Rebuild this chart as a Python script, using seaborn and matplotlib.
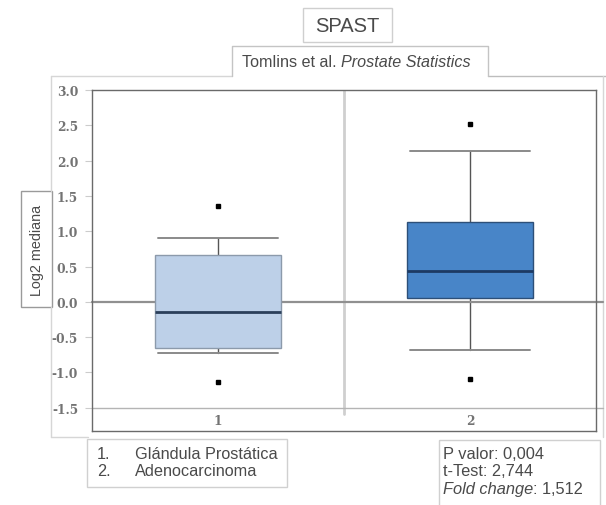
import matplotlib
matplotlib.use("Agg")
import matplotlib.pyplot as plt
from matplotlib.patches import Rectangle
import seaborn as sns

# ---- data -------------------------------------------------------------
gene = "SPAST"
study_plain = "Tomlins et al. "
study_italic = "Prostate Statistics"
groups = ["1", "2"]
group_names = ["Glándula Prostática", "Adenocarcinoma"]

medians = [-0.15, 0.44]
q1 = [-0.65, 0.06]
q3 = [0.66, 1.13]
whisker_low = [-0.72, -0.68]
whisker_high = [0.91, 2.14]
outlier_low = [-1.13, -1.10]
outlier_high = [1.35, 2.52]

y_ticks = [-1.5, -1.0, -0.5, 0.0, 0.5, 1.0, 1.5, 2.0, 2.5, 3.0]
y_label = "Log2 mediana"

p_value = "0,004"
t_test = "2,744"
fold_change = "1,512"

# ---- styles -----------------------------------------------------------
box_faces = ["#bdd0e8", "#4885c8"]
box_edges = ["#8c9aab", "#2d4f78"]
median_colors = ["#2b3f5a", "#1d3a63"]
text_gray = "#4a4a4a"

sns.set_theme(style="white")
plt.rcParams["font.family"] = ["Liberation Sans", "DejaVu Sans"]

W, H = 606, 506
fig = plt.figure(figsize=(W / 100, H / 100), dpi=100)

# pixel-space canvas for the panel decorations
bg = fig.add_axes([0, 0, 1, 1])
bg.set_xlim(0, W)
bg.set_ylim(H, 0)
bg.axis("off")

# main plot area
L, R, T, B = 92, 596, 91, 432
ax = fig.add_axes([L / W, 1 - B / H, (R - L) / W, (B - T) / H])
ax.patch.set_alpha(0)

stats = []
for i in range(len(groups)):
    stats.append(dict(
        med=medians[i], q1=q1[i], q3=q3[i],
        whislo=whisker_low[i], whishi=whisker_high[i],
        fliers=[outlier_low[i], outlier_high[i]], label=groups[i],
    ))

bp = ax.bxp(stats, positions=list(range(len(groups))), widths=0.5,
            capwidths=0.48, patch_artist=True, manage_ticks=False,
            flierprops=dict(marker="s", markersize=2.8,
                            markerfacecolor="black", markeredgecolor="black"))
for i, box in enumerate(bp["boxes"]):
    box.set_facecolor(box_faces[i])
    box.set_edgecolor(box_edges[i])
    box.set_linewidth(1.0)
    box.set_zorder(3)
for i, med in enumerate(bp["medians"]):
    med.set_color(median_colors[i])
    med.set_linewidth(2.0)
    med.set_zorder(4)
for w in bp["whiskers"]:
    w.set_color("#555555")
    w.set_linewidth(1.0)
for c in bp["caps"]:
    c.set_color("#8a8a8a")
    c.set_linewidth(1.4)

ax.set_xlim(-0.5, len(groups) - 0.5)
ax.set_ylim(-1.83, 2.97)

# reference lines and group divider
ax.axhline(0, color="#909090", lw=1.6, zorder=2, xmax=1.014, clip_on=False)
ax.axhline(-1.5, color="#b4b4b4", lw=1.0, zorder=2, xmax=1.014, clip_on=False)
ax.axvline(0.5, ymin=0.05, ymax=1, color="#cfcfcf", lw=2.0, zorder=1)

for s in ax.spines.values():
    s.set_color("#6a6a6a")
    s.set_linewidth(1.0)

ax.set_yticks(y_ticks)
ax.set_yticklabels([f"{v:.1f}" for v in y_ticks])
ax.set_xticks(list(range(len(groups))))
ax.set_xticklabels(groups)
ax.tick_params(axis="y", direction="out", length=5, width=0.8, color="#cccccc",
               pad=5, labelsize=8.8, labelcolor="#737373", left=True)
ax.tick_params(axis="x", length=0, pad=-12.5, labelsize=8.8, labelcolor="#737373")
for lab in ax.get_yticklabels() + ax.get_xticklabels():
    lab.set_family("DejaVu Serif")
    lab.set_weight("bold")

# ---- panel decorations -------------------------------------------------
faint = "#d6d6d6"
# outer panel
bg.plot([51, 232], [77, 77], color=faint, lw=1)
bg.plot([488, 606], [77, 77], color="#bdbdbd", lw=1)
bg.plot([51, 51], [77, 192], color=faint, lw=1)
bg.plot([51, 51], [308, 438], color=faint, lw=1)
bg.plot([51, 88], [438, 438], color=faint, lw=1)
bg.plot([603, 603], [77, 438], color=faint, lw=1)

# title box
bg.add_patch(Rectangle((303, 9), 89, 34, fill=False, edgecolor="#cfcfcf", lw=1))
bg.text(347.5, 26.5, gene, ha="center", va="center", fontsize=14.5, color=text_gray)

# subtitle tab
bg.plot([232, 232, 488, 488], [77, 47, 47, 77], color="#c4c4c4", lw=1)
t1 = bg.text(242, 70, study_plain, ha="left", va="bottom", fontsize=11.6, color=text_gray)
bg.annotate(study_italic, xy=(1, 0), xycoords=t1, va="bottom", ha="left",
            fontsize=11.6, color=text_gray, style="italic")

# y label tab
bg.add_patch(Rectangle((21, 192), 31, 116, facecolor="white", edgecolor="#9a9a9a", lw=1))
bg.text(37, 250, y_label, rotation=90, ha="center", va="center", fontsize=10.4, color=text_gray)

# group legend box
bg.add_patch(Rectangle((87, 440), 200, 48, fill=False, edgecolor="#d0d0d0", lw=1))
for i, name in enumerate(group_names):
    yy = 455 + i * 17
    bg.text(97, yy, f"{i + 1}.", ha="left", va="center", fontsize=11.7, color=text_gray)
    bg.text(135, yy, name, ha="left", va="center", fontsize=11.7, color=text_gray)

# statistics box
bg.add_patch(Rectangle((439, 441), 161, 70, fill=False, edgecolor="#d0d0d0", lw=1))
bg.text(443, 455, f"P valor: {p_value}", ha="left", va="center", fontsize=11.8, color=text_gray)
bg.text(443, 472, f"t-Test: {t_test}", ha="left", va="center", fontsize=11.8, color=text_gray)
f1 = bg.text(443, 497, "Fold change", ha="left", va="bottom", fontsize=11.8,
             color=text_gray, style="italic")
bg.annotate(f": {fold_change}", xy=(1, 0), xycoords=f1, va="bottom", ha="left",
            fontsize=11.8, color=text_gray)

fig.savefig("out.png", dpi=100)
